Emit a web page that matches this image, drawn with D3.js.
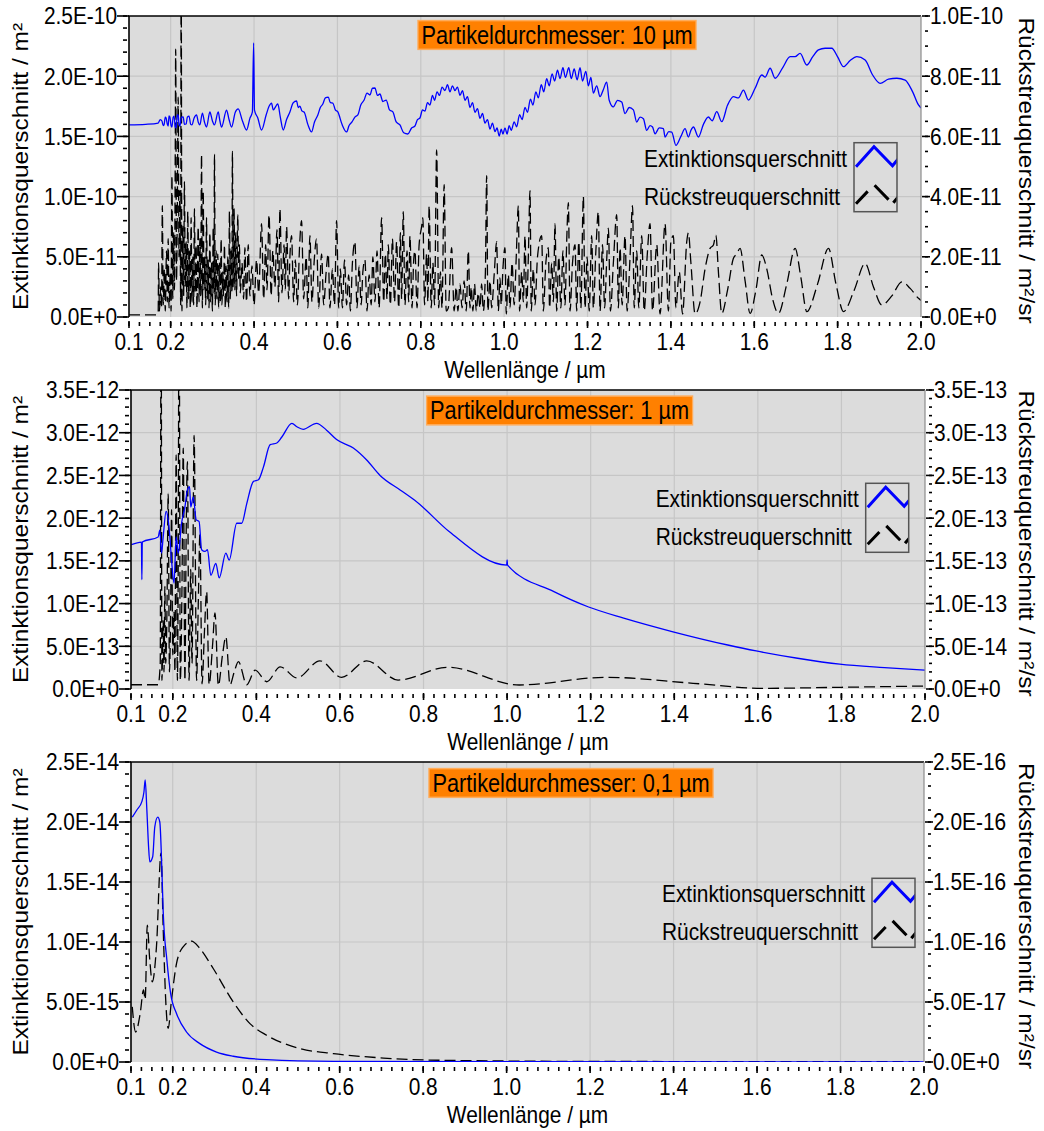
<!DOCTYPE html>
<html>
<head>
<meta charset="utf-8">
<script src="https://d3js.org/d3.v7.min.js"></script>
<style>
  body { margin: 0; background: #fff; }
  svg text { font-family: "Liberation Sans", Arial, sans-serif; fill: #000; }
</style>
</head>
<body>
<svg id="chart" width="1044" height="1131"></svg>
<script>
// ---- shared x axis (wavelength in µm) ----
var wavelengthTicks = [0.1, 0.2, 0.4, 0.6, 0.8, 1.0, 1.2, 1.4, 1.6, 1.8, 2.0];
var wavelengthMinorStep = 0.025;

var titles = ["Partikeldurchmesser: 10 µm", "Partikeldurchmesser: 1 µm", "Partikeldurchmesser: 0,1 µm"];
var legendLabels = ["Extinktionsquerschnitt", "Rückstreuquerschnitt"];
var xTitle = "Wellenlänge / µm";
var leftTitle = "Extinktionsquerschnitt / m²";
var rightTitle = "Rückstreuquerschnitt / m²/sr";

// ---- 10 µm particle ----
// extinction, [µm, x1e-10 m²]
var ext10 = [
  [0.100,1.595],[0.140,1.60],[0.170,1.611],[0.175,1.640],[0.179,1.628],[0.182,1.59],[0.184,1.595],[0.187,1.66],
  [0.189,1.653],[0.192,1.60],[0.194,1.586],[0.196,1.67],[0.198,1.661],[0.201,1.59],[0.203,1.578],[0.206,1.66],
  [0.208,1.669],[0.211,1.58],[0.213,1.570],[0.216,1.68],[0.218,1.678],[0.220,1.60],[0.222,1.586],[0.226,1.66],
  [0.230,1.661],[0.233,1.60],[0.237,1.603],[0.240,1.66],[0.244,1.669],[0.248,1.60],[0.251,1.595],[0.256,1.65],
  [0.262,1.678],[0.266,1.62],[0.270,1.595],[0.276,1.694],[0.281,1.62],[0.286,1.578],[0.294,1.703],[0.300,1.63],
  [0.305,1.595],[0.314,1.703],[0.318,1.63],[0.322,1.578],[0.334,1.719],[0.340,1.64],[0.346,1.578],[0.355,1.70],
  [0.362,1.728],[0.372,1.63],[0.382,1.553],[0.390,1.65],[0.396,1.703],[0.399,2.276],[0.401,1.719],[0.409,1.653],
  [0.418,1.553],[0.429,1.678],[0.436,1.75],[0.442,1.777],[0.446,1.72],[0.450,1.736],[0.454,1.76],[0.457,1.769],
  [0.463,1.66],[0.470,1.553],[0.478,1.64],[0.486,1.703],[0.494,1.78],[0.502,1.794],[0.506,1.74],[0.510,1.752],
  [0.515,1.71],[0.520,1.703],[0.529,1.60],[0.538,1.537],[0.545,1.62],[0.553,1.678],[0.559,1.74],[0.565,1.769],
  [0.571,1.82],[0.578,1.827],[0.583,1.78],[0.589,1.777],[0.595,1.72],[0.601,1.703],[0.611,1.60],[0.622,1.537],
  [0.628,1.59],[0.635,1.620],[0.642,1.66],[0.649,1.678],[0.656,1.76],[0.664,1.802],[0.671,1.86],[0.678,1.844],
  [0.684,1.90],[0.690,1.902],[0.696,1.84],[0.702,1.852],[0.709,1.79],[0.717,1.802],[0.725,1.72],[0.733,1.703],
  [0.741,1.62],[0.750,1.595],[0.759,1.53],[0.769,1.520],[0.778,1.57],[0.786,1.586],[0.792,1.64],[0.798,1.653],
  [0.804,1.72],[0.810,1.71],[0.816,1.78],[0.822,1.761],[0.828,1.84],[0.833,1.80],[0.839,1.87],[0.845,1.84],
  [0.851,1.91],[0.858,1.880],[0.864,1.93],[0.870,1.870],[0.876,1.92],[0.882,1.880],[0.888,1.91],[0.894,1.840],
  [0.900,1.88],[0.906,1.800],[0.912,1.83],[0.918,1.740],[0.924,1.78],[0.930,1.700],[0.936,1.73],[0.942,1.650],
  [0.948,1.69],[0.954,1.610],[0.960,1.64],[0.966,1.560],[0.972,1.61],[0.978,1.540],[0.983,1.57],[0.988,1.503],
  [0.993,1.56],[0.997,1.520],[1.002,1.57],[1.007,1.52],[1.012,1.59],[1.017,1.55],[1.024,1.62],[1.030,1.58],
  [1.037,1.68],[1.043,1.64],[1.050,1.74],[1.056,1.70],[1.063,1.81],[1.069,1.76],[1.076,1.87],[1.082,1.82],
  [1.089,1.93],[1.095,1.87],[1.102,1.98],[1.108,1.92],[1.115,2.02],[1.121,1.96],[1.128,2.05],[1.134,1.98],
  [1.141,2.07],[1.147,1.99],[1.155,2.07],[1.161,1.98],[1.168,2.06],[1.175,1.97],[1.182,2.07],[1.188,1.96],
  [1.196,2.04],[1.202,1.92],[1.208,1.99],[1.214,1.86],[1.222,1.92],[1.230,1.83],[1.237,1.88],[1.246,1.95],
  [1.252,1.80],[1.262,1.745],[1.272,1.80],[1.282,1.786],[1.290,1.689],[1.300,1.74],[1.310,1.72],[1.318,1.619],
  [1.326,1.66],[1.334,1.647],[1.342,1.55],[1.350,1.59],[1.356,1.578],[1.362,1.522],[1.372,1.57],[1.382,1.564],
  [1.386,1.495],[1.395,1.54],[1.402,1.536],[1.412,1.426],[1.424,1.50],[1.434,1.564],[1.442,1.495],[1.448,1.55],
  [1.454,1.578],[1.466,1.495],[1.478,1.60],[1.490,1.661],[1.499,1.63],[1.510,1.705],[1.522,1.622],[1.536,1.76],
  [1.550,1.830],[1.562,1.82],[1.574,1.885],[1.586,1.802],[1.602,1.90],[1.618,2.010],[1.626,1.993],[1.638,2.066],
  [1.650,1.983],[1.668,2.07],[1.686,2.162],[1.698,2.162],[1.710,2.190],[1.726,2.093],[1.740,2.16],[1.754,2.218],
  [1.770,2.232],[1.786,2.232],[1.800,2.16],[1.814,2.079],[1.830,2.13],[1.846,2.162],[1.866,2.135],[1.884,2.01],
  [1.902,1.941],[1.922,1.975],[1.942,1.983],[1.962,1.968],[1.980,1.87],[1.994,1.761],[2.000,1.736]
];
// backscatter, [µm, x1e-11 m²/sr]
var back10 = [
  [0.100,0.07],[0.168,0.07],
  [0.170,0.1],[0.171,1.8],[0.173,0.2],[0.176,1.0],[0.178,0.3],[0.180,3.7],[0.182,0.4],[0.185,1.6],[0.187,0.2],
  [0.190,2.2],[0.192,0.5],[0.194,2.6],[0.196,0.3],[0.199,1.5],[0.201,0.2],[0.203,4.7],[0.205,0.6],[0.207,2.8],
  [0.209,0.9],[0.211,5.6],[0.212,8.9],[0.214,1.2],[0.216,3.8],[0.218,7.3],[0.220,2.0],[0.222,4.2],[0.224,0.4],
  [0.225,12.5],[0.227,0.2],[0.229,3.0],[0.231,0.7],[0.233,4.5],[0.235,1.0],[0.237,2.5],[0.239,0.3],[0.241,3.5],
  [0.243,0.6],[0.245,2.2],[0.247,0.3],[0.249,3.3],[0.251,0.5],[0.253,2.0],[0.255,0.4],[0.257,3.6],[0.259,0.8],
  [0.261,2.4],[0.263,0.3],[0.266,3.0],[0.268,0.5],[0.270,2.6],[0.272,0.7],[0.274,5.4],[0.276,0.3],[0.278,4.2],
  [0.280,0.9],[0.282,2.0],[0.284,0.4],[0.286,3.3],[0.288,0.6],[0.290,1.9],[0.292,0.3],[0.294,2.8],[0.296,0.5],
  [0.298,1.8],[0.300,0.2],[0.302,3.0],[0.304,0.8],[0.305,5.4],[0.307,0.4],[0.309,2.2],[0.311,0.6],[0.313,2.1],
  [0.315,0.3],[0.317,1.8],[0.319,0.5],[0.321,2.6],[0.323,0.4],[0.325,1.5],[0.327,0.7],[0.329,2.4],[0.331,0.3],
  [0.333,1.7],[0.335,0.5],[0.337,2.0],[0.339,0.3],[0.341,3.5],[0.343,0.6],[0.345,2.2],[0.347,0.8],[0.348,5.5],
  [0.350,1.0],[0.352,3.6],[0.354,0.9],[0.356,2.8],[0.358,0.7],[0.361,3.4],[0.363,1.2],[0.365,2.4],[0.367,0.8],
  [0.371,1.8],[0.375,0.6],[0.378,2.3],[0.382,0.5],[0.386,2.4],[0.390,0.7],[0.395,1.7],[0.400,0.4],[0.406,1.9],
  [0.411,0.8],[0.418,3.1],[0.423,0.6],[0.428,2.4],[0.431,0.9],[0.436,3.4],[0.441,0.7],[0.445,2.2],[0.450,1.0],
  [0.455,2.9],[0.459,0.5],[0.462,3.6],[0.467,0.8],[0.472,2.4],[0.475,0.9],[0.478,3.0],[0.483,0.6],[0.486,2.0],
  [0.490,2.7],[0.495,0.5],[0.499,1.9],[0.504,0.4],[0.509,2.3],[0.514,3.2],[0.519,0.6],[0.525,2.0],[0.529,0.3],
  [0.534,2.7],[0.539,0.5],[0.544,1.8],[0.550,2.6],[0.555,0.3],[0.562,2.1],[0.567,0.4],[0.573,1.5],[0.578,2.1],
  [0.582,0.3],[0.588,1.6],[0.593,0.4],[0.598,3.2],[0.603,0.3],
  [0.607,1.6],[0.612,0.3],[0.617,1.9],[0.622,0.4],[0.627,1.4],[0.631,0.2],[0.636,1.8],[0.642,2.5],[0.647,0.3],
  [0.652,1.7],[0.657,0.4],[0.661,1.5],[0.666,1.9],[0.671,0.2],[0.676,1.4],[0.681,0.4],[0.685,2.0],[0.690,0.5],
  [0.695,2.2],[0.700,0.3],[0.706,3.3],[0.711,0.5],[0.715,2.1],[0.719,0.6],[0.722,2.4],[0.727,0.4],[0.732,2.6],
  [0.737,0.5],[0.742,2.5],[0.747,0.3],[0.751,2.8],[0.754,0.6],[0.758,3.5],[0.762,0.4],[0.767,2.2],[0.771,0.5],
  [0.774,2.7],[0.779,0.3],[0.783,1.9],[0.786,2.2],[0.791,0.3],[0.796,2.4],[0.802,3.0],[0.805,3.3],[0.809,0.4],
  [0.814,2.1],[0.817,0.5],[0.820,3.7],[0.825,0.3],[0.829,1.8],[0.833,0.4],[0.838,5.55],[0.843,0.3],[0.847,1.5],
  [0.851,0.3],[0.856,4.4],[0.861,0.2],
  [0.866,0.3],[0.874,2.3],[0.880,0.2],[0.885,1.0],[0.889,0.2],[0.894,1.1],[0.899,0.3],[0.904,1.2],[0.909,0.2],
  [0.914,2.2],[0.918,0.3],[0.921,1.0],[0.925,0.2],[0.929,1.1],[0.933,0.2],[0.938,0.8],[0.942,0.3],[0.946,1.1],
  [0.950,0.2],[0.955,1.5],[0.958,4.7],[0.961,0.2],[0.966,1.2],[0.970,0.3],[0.976,1.4],[0.982,2.5],[0.986,0.2],
  [0.990,1.3],[0.993,0.4],[0.997,1.6],[1.002,2.3],[1.005,0.1],[1.010,1.4],[1.014,0.3],[1.019,1.8],[1.024,0.4],
  [1.029,2.0],[1.034,3.7],[1.037,0.2],[1.042,1.5],[1.046,0.5],[1.050,2.7],[1.054,0.3],[1.058,2.0],[1.062,4.2],
  [1.065,0.2],[1.070,1.6],[1.074,0.4],[1.080,2.0],[1.090,2.7],[1.094,0.2],[1.100,1.8],[1.106,2.3],[1.109,0.3],
  [1.114,1.8],[1.118,0.5],[1.122,3.1],[1.126,0.2],[1.131,2.0],[1.136,0.3],[1.141,2.2],[1.146,0.4],[1.150,2.5],
  [1.154,3.8],[1.158,0.2],[1.164,1.8],[1.170,2.4],[1.174,0.2],[1.179,2.5],[1.184,0.3],[1.190,4.0],[1.194,0.3],
  [1.199,2.0],[1.204,0.2],[1.210,2.7],[1.214,0.3],[1.220,2.2],[1.226,3.5],[1.230,0.2],[1.236,2.4],[1.241,0.3],
  [1.246,1.9],[1.250,2.95],[1.255,0.2],[1.262,1.8],[1.270,3.4],[1.274,0.3],[1.278,2.3],[1.283,0.4],[1.290,2.7],
  [1.295,0.2],[1.302,2.0],[1.308,3.7],[1.312,0.3],[1.318,2.2],[1.323,0.3],[1.330,2.7],[1.336,0.2],[1.343,2.0],
  [1.350,3.1],[1.356,0.2],[1.366,2.4],[1.374,0.1],[1.386,3.1],[1.394,0.2],[1.400,2.5],[1.406,2.7],[1.412,0.3],
  [1.420,1.5],[1.428,0.1],[1.438,2.5],[1.442,2.8],[1.448,1.8],[1.458,0.1],[1.470,0.5],[1.482,1.6],[1.494,2.28],
  [1.502,2.39],[1.508,2.72],[1.514,1.5],[1.522,0.12],[1.536,0.9],[1.550,1.95],[1.558,2.1],[1.566,2.28],[1.578,1.2],
  [1.590,0.12],[1.604,0.9],[1.618,2.06],[1.630,1.6],[1.644,0.6],[1.658,0.12],[1.678,1.1],[1.698,2.28],[1.712,1.3],
  [1.726,0.18],[1.752,1.1],[1.778,2.28],[1.796,1.1],[1.814,0.18],[1.840,0.9],[1.866,1.78],[1.886,1.0],[1.906,0.40],
  [1.930,0.7],[1.954,1.17],[1.974,0.95],[1.994,0.62],[2.000,0.55]
];
var ext10Ticks = [0, 5e-11, 1e-10, 1.5e-10, 2e-10, 2.5e-10];
var back10Ticks = [0, 2e-11, 4e-11, 6e-11, 8e-11, 1e-10];

// ---- 1 µm particle ----
// extinction, [µm, x1e-12 m²]
var ext1 = [
  [0.101,1.69],[0.125,1.72],[0.126,1.28],[0.127,1.72],[0.165,1.78],[0.169,1.86],[0.173,1.59],[0.177,1.78],
  [0.184,2.08],[0.189,1.98],[0.193,1.78],[0.197,1.51],[0.203,1.24],[0.208,1.78],[0.213,1.59],[0.221,1.94],
  [0.229,2.13],[0.235,2.33],[0.240,2.37],[0.243,2.13],[0.249,2.25],[0.256,1.98],[0.263,1.96],[0.269,1.63],
  [0.277,1.61],[0.283,1.63],[0.291,1.33],[0.303,1.47],[0.311,1.30],[0.327,1.59],[0.335,1.51],[0.353,1.94],
  [0.365,1.94],[0.377,2.17],[0.393,2.43],[0.405,2.45],[0.417,2.60],[0.433,2.86],[0.449,2.88],[0.461,2.95],
  [0.485,3.11],[0.497,3.07],[0.512,3.04],[0.544,3.11],[0.568,3.03],[0.592,2.92],[0.632,2.82],[0.664,2.68],
  [0.696,2.50],[0.744,2.33],[0.779,2.21],[0.862,1.84],[0.999,1.45],[1.000,1.51],[1.001,1.45],[1.112,1.14],
  [1.195,0.96],[1.279,0.83],[1.397,0.67],[1.528,0.515],[1.596,0.445],[1.695,0.36],[1.796,0.29],[1.903,0.25],
  [2.000,0.22]
];
// backscatter, [µm, x1e-13 m²/sr]
var back1 = [
  [0.100,0.05],[0.165,0.05],[0.170,0.3],[0.172,5.0],[0.174,0.1],[0.177,0.8],[0.179,0.2],[0.181,1.2],[0.183,0.3],
  [0.186,0.9],[0.189,2.29],[0.192,0.2],[0.195,1.0],[0.197,2.1],[0.200,0.4],[0.203,0.9],[0.205,0.2],[0.208,2.74],
  [0.211,0.1],[0.213,1.5],[0.215,5.0],[0.218,0.1],[0.222,1.2],[0.225,2.82],[0.229,0.1],[0.232,1.8],[0.235,2.66],
  [0.239,0.1],[0.243,1.4],[0.246,0.3],[0.251,2.97],[0.257,0.1],[0.261,1.0],[0.265,1.82],[0.270,0.06],[0.276,0.7],
  [0.281,1.14],[0.287,0.05],[0.295,0.5],[0.301,0.89],[0.309,0.04],[0.319,0.4],[0.327,0.61],[0.337,0.05],[0.347,0.2],
  [0.357,0.32],[0.377,0.05],[0.397,0.22],[0.425,0.085],[0.457,0.26],[0.497,0.13],[0.552,0.33],[0.604,0.137],
  [0.664,0.33],[0.739,0.105],[0.858,0.254],[1.029,0.047],[1.237,0.137],[1.445,0.067],[1.611,0.008],[1.800,0.02],
  [2.000,0.035]
];
var ext1Ticks = [0, 5e-13, 1e-12, 1.5e-12, 2e-12, 2.5e-12, 3e-12, 3.5e-12];
var back1Ticks = [0, 5e-14, 1e-13, 1.5e-13, 2e-13, 2.5e-13, 3e-13, 3.5e-13];

// ---- 0,1 µm particle ----
// extinction, [µm, x1e-14 m²]
var ext01 = [
  [0.103,2.04],[0.114,2.10],[0.126,2.17],[0.131,2.25],[0.134,2.35],[0.138,2.10],[0.142,1.80],[0.145,1.668],
  [0.152,1.71],[0.157,1.96],[0.164,2.04],[0.169,2.00],[0.174,1.60],[0.177,1.265],[0.186,0.848],[0.195,0.57],
  [0.209,0.404],[0.233,0.25],[0.265,0.153],[0.305,0.083],[0.345,0.048],[0.425,0.02],[0.585,0.006],[1.000,0.002],
  [2.000,0.001]
];
// backscatter, [µm, x1e-16 m²/sr]
var back01 = [
  [0.103,0.459],[0.111,0.25],[0.122,0.404],[0.130,0.60],[0.134,0.52],[0.139,1.14],[0.145,0.85],[0.151,0.667],
  [0.161,0.96],[0.172,1.74],[0.177,1.13],[0.184,0.459],[0.189,0.28],[0.197,0.515],[0.209,0.82],[0.225,0.96],
  [0.245,1.007],[0.265,0.946],[0.297,0.779],[0.345,0.50],[0.385,0.32],[0.425,0.223],[0.505,0.112],[0.585,0.07],
  [0.705,0.033],[0.848,0.014],[1.200,0.005],[2.000,0.002]
];
var ext01Ticks = [0, 5e-15, 1e-14, 1.5e-14, 2e-14, 2.5e-14];
var back01Ticks = [0, 5e-17, 1e-16, 1.5e-16, 2e-16, 2.5e-16];

// ---- panel layout ----
var panels = [
  {left: 129, right: 921, top: 16, bottom: 317,
   ext: ext10, extUnit: 1e-10, back: back10, backUnit: 1e-11,
   extTicks: ext10Ticks, backTicks: back10Ticks, extMinor: 5, backMinor: 4,
   title: titles[0], titleX: 557, titleY: 43.5, legendX: 854, legendY: 142.7},
  {left: 131, right: 925, top: 390, bottom: 689,
   ext: ext1, extUnit: 1e-12, back: back1, backUnit: 1e-13,
   extTicks: ext1Ticks, backTicks: back1Ticks, extMinor: 5, backMinor: 5,
   title: titles[1], titleX: 559.6, titleY: 419, legendX: 865.7, legendY: 483.3},
  {left: 131, right: 924, top: 762, bottom: 1062,
   ext: ext01, extUnit: 1e-14, back: back01, backUnit: 1e-16,
   extTicks: ext01Ticks, backTicks: back01Ticks, extMinor: 5, backMinor: 5,
   title: titles[2], titleX: 571, titleY: 791.5, legendX: 872, legendY: 878.3}
];

var FONT = 24, NARROW = 0.87;   // text in the original looks horizontally squeezed
var svg = d3.select("#chart");
var fmt = function(v) { return d3.format(".1e")(v).toUpperCase(); };

function minorValues(ticks, n) {
  var max = ticks[ticks.length - 1];
  var step = (ticks[1] - ticks[0]) / n;
  return d3.range(0, Math.round(max / step) + 1).map(function(i) { return i * step; });
}

// squeezed horizontal text placed at (x, y)
function place(x, y) { return "translate(" + x + "," + y + ") scale(" + NARROW + ",1)"; }

function drawPanel(p, idx) {
  var g = svg.append("g").attr("class", "panel" + idx);
  var x = d3.scaleLinear().domain([0.1, 2.0]).range([p.left, p.right]);
  var yL = d3.scaleLinear().domain([0, p.extTicks[p.extTicks.length - 1]]).range([p.bottom, p.top]);
  var yR = d3.scaleLinear().domain([0, p.backTicks[p.backTicks.length - 1]]).range([p.bottom, p.top]);

  // plot background
  g.append("rect")
    .attr("x", p.left).attr("y", p.top)
    .attr("width", p.right - p.left).attr("height", p.bottom - p.top)
    .attr("fill", "#dcdcdc");

  // grid
  g.selectAll("line.vgrid").data(wavelengthTicks.slice(1, -1)).enter().append("line")
    .attr("x1", function(d) { return x(d); }).attr("x2", function(d) { return x(d); })
    .attr("y1", p.top).attr("y2", p.bottom)
    .attr("stroke", "#c6c6c6").attr("stroke-width", 1.2);
  g.selectAll("line.hgrid").data(p.extTicks.slice(1, -1)).enter().append("line")
    .attr("x1", p.left).attr("x2", p.right)
    .attr("y1", function(d) { return yL(d); }).attr("y2", function(d) { return yL(d); })
    .attr("stroke", "#c6c6c6").attr("stroke-width", 1.2);

  // data lines
  var clipId = "clip" + idx;
  g.append("clipPath").attr("id", clipId).append("rect")
    .attr("x", p.left).attr("y", p.top)
    .attr("width", p.right - p.left).attr("height", p.bottom - p.top);

  var backLine = d3.line()
    .x(function(d) { return x(d[0]); })
    .y(function(d) { return yR(d[1] * p.backUnit); })
    .curve(d3.curveMonotoneX);
  var extLine = d3.line()
    .x(function(d) { return x(d[0]); })
    .y(function(d) { return yL(d[1] * p.extUnit); })
    .curve(d3.curveMonotoneX);

  var lines = g.append("g").attr("clip-path", "url(#" + clipId + ")");
  lines.append("path").datum(p.back)
    .attr("d", backLine)
    .attr("fill", "none").attr("stroke", "#000").attr("stroke-width", 1.3)
    .attr("stroke-dasharray", "11,5");
  lines.append("path").datum(p.ext)
    .attr("d", extLine)
    .attr("fill", "none").attr("stroke", "#0000ff").attr("stroke-width", 1.3);

  // frame
  g.append("line").attr("x1", p.left - 1).attr("x2", p.right).attr("y1", p.top).attr("y2", p.top)
    .attr("stroke", "#000").attr("stroke-width", 1.6);
  g.append("line").attr("x1", p.left).attr("x2", p.left).attr("y1", p.top).attr("y2", p.bottom)
    .attr("stroke", "#000").attr("stroke-width", 1.6);
  g.append("line").attr("x1", p.right).attr("x2", p.right).attr("y1", p.top).attr("y2", p.bottom)
    .attr("stroke", "#8c8c8c").attr("stroke-width", 1.2);

  // left axis ticks
  g.selectAll("line.lminor").data(minorValues(p.extTicks, p.extMinor)).enter().append("line")
    .attr("x1", p.left - 6).attr("x2", p.left - 2)
    .attr("y1", function(d) { return yL(d); }).attr("y2", function(d) { return yL(d); })
    .attr("stroke", "#000").attr("stroke-width", 1.6);
  g.selectAll("line.lmajor").data(p.extTicks).enter().append("line")
    .attr("x1", p.left - 12).attr("x2", p.left)
    .attr("y1", function(d) { return yL(d); }).attr("y2", function(d) { return yL(d); })
    .attr("stroke", "#000").attr("stroke-width", 1.6);
  g.selectAll("text.lt").data(p.extTicks).enter().append("text")
    .attr("transform", function(d) { return place(p.left - 12, yL(d)); })
    .attr("dy", "0.35em").attr("text-anchor", "end")
    .style("font-size", FONT + "px")
    .text(fmt);

  // right axis ticks
  g.selectAll("line.rminor").data(minorValues(p.backTicks, p.backMinor)).enter().append("line")
    .attr("x1", p.right + 4).attr("x2", p.right + 7)
    .attr("y1", function(d) { return yR(d); }).attr("y2", function(d) { return yR(d); })
    .attr("stroke", "#000").attr("stroke-width", 1.6);
  g.selectAll("line.rmajor").data(p.backTicks).enter().append("line")
    .attr("x1", p.right + 1).attr("x2", p.right + 9)
    .attr("y1", function(d) { return yR(d); }).attr("y2", function(d) { return yR(d); })
    .attr("stroke", "#000").attr("stroke-width", 1.6);
  g.selectAll("text.rt").data(p.backTicks).enter().append("text")
    .attr("transform", function(d) { return place(p.right + 9, yR(d)); })
    .attr("dy", "0.35em").attr("text-anchor", "start")
    .style("font-size", FONT + "px")
    .text(fmt);

  // x axis ticks
  var xMinor = d3.range(0, Math.round(1.9 / wavelengthMinorStep) + 1)
    .map(function(i) { return 0.1 + i * wavelengthMinorStep; });
  g.selectAll("line.xminor").data(xMinor).enter().append("line")
    .attr("x1", function(d) { return x(d); }).attr("x2", function(d) { return x(d); })
    .attr("y1", p.bottom + 5).attr("y2", p.bottom + 9)
    .attr("stroke", "#000").attr("stroke-width", 1.6);
  g.selectAll("line.xmajor").data(wavelengthTicks).enter().append("line")
    .attr("x1", function(d) { return x(d); }).attr("x2", function(d) { return x(d); })
    .attr("y1", p.bottom + 4).attr("y2", p.bottom + 11)
    .attr("stroke", "#000").attr("stroke-width", 1.6);
  g.selectAll("text.xt").data(wavelengthTicks).enter().append("text")
    .attr("transform", function(d) { return place(x(d), p.bottom + 33); })
    .attr("text-anchor", "middle")
    .style("font-size", FONT + "px")
    .text(function(d) { return d.toFixed(1); });

  // axis titles
  var midX = (p.left + p.right) / 2, midY = (p.top + p.bottom) / 2;
  g.append("text").attr("transform", place(midX, p.bottom + 61))
    .attr("text-anchor", "middle").style("font-size", FONT + "px").text(xTitle);
  g.append("text")
    .attr("transform", "translate(28," + midY + ") rotate(-90) scale(1," + NARROW + ")")
    .attr("text-anchor", "middle").style("font-size", "24.5px").text(leftTitle);
  g.append("text")
    .attr("transform", "translate(1019," + (midY + 4) + ") rotate(90) scale(1," + NARROW + ")")
    .attr("text-anchor", "middle").style("font-size", "24.5px").text(rightTitle);

  // title box
  var tg = g.append("g").attr("transform", place(p.titleX, p.titleY));
  var tt = tg.append("text").attr("x", 0).attr("y", 0)
    .attr("text-anchor", "middle").style("font-size", "25px").text(p.title);
  var bb = tt.node().getBBox();
  tg.insert("rect", "text")
    .attr("x", bb.x - 4).attr("y", bb.y - 0.5)
    .attr("width", bb.width + 8).attr("height", bb.height + 1)
    .attr("fill", "#ff8000").attr("stroke", "#ffac5a").attr("stroke-width", 1.5);

  // legend
  var lg = g.append("g").attr("transform", "translate(" + p.legendX + "," + p.legendY + ")");
  lg.selectAll("text").data(legendLabels).enter().append("text")
    .attr("transform", function(d, i) { return place(-210, i === 0 ? 24 : 62); })
    .style("font-size", FONT + "px")
    .text(function(d) { return d; });
  var lclip = "lclip" + idx;
  lg.append("clipPath").attr("id", lclip).append("rect")
    .attr("x", 0).attr("y", 0).attr("width", 43).attr("height", 69);
  var samples = lg.append("g").attr("clip-path", "url(#" + lclip + ")");
  samples.append("polyline").attr("points", "2,24 20,4 38.5,23 46,14")
    .attr("fill", "none").attr("stroke", "#0000ff").attr("stroke-width", 3);
  samples.append("polyline").attr("points", "2,61 20,42 38.5,61 46,52")
    .attr("fill", "none").attr("stroke", "#000").attr("stroke-width", 3)
    .attr("stroke-dasharray", "17,10,20,7");
  lg.append("rect").attr("x", 0).attr("y", 0).attr("width", 43).attr("height", 69)
    .attr("fill", "none").attr("stroke", "#555").attr("stroke-width", 1.5);
}

panels.forEach(drawPanel);
</script>
</body>
</html>
